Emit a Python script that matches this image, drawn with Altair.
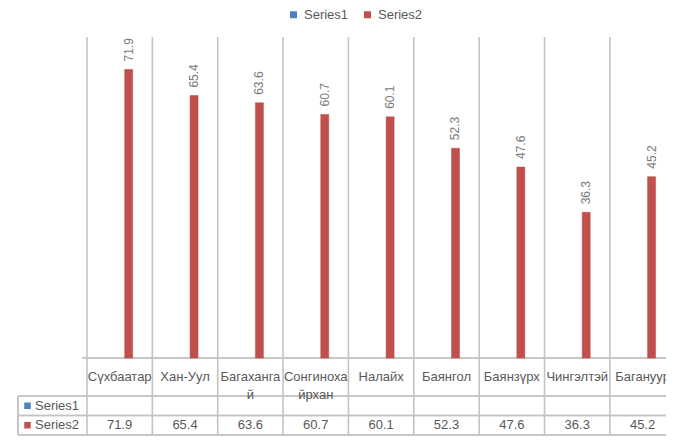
import altair as alt
import pandas as pd

categories = ["Сүхбаатар", "Хан-Уул", "Багахангай", "Сонгинохайрхан", "Налайх",
              "Баянгол", "Баянзүрх", "Чингэлтэй", "Багануур"]
category_labels = ["Сүхбаатар", "Хан-Уул", "Багаханга\nй", "Сонгиноха\nйрхан", "Налайх",
                   "Баянгол", "Баянзүрх", "Чингэлтэй", "Багануур"]
series_names = ["Series1", "Series2"]
series1 = [None] * 9
series2 = [71.9, 65.4, 63.6, 60.7, 60.1, 52.3, 47.6, 36.3, 45.2]
series_colors = ["#4F81BD", "#C0504D"]

rows = []
for i, (c, l, v1, v2) in enumerate(zip(categories, category_labels, series1, series2)):
    rows.append({"cat": c, "idx": i, "label": l, "series": "Series1", "value": v1})
    rows.append({"cat": c, "idx": i, "label": l, "series": "Series2", "value": v2})
df = pd.DataFrame(rows)
df_cats = pd.DataFrame({"cat": categories, "idx": list(range(len(categories))),
                        "label": category_labels})
df_series = pd.DataFrame({"series": series_names})

FONT = "Liberation Sans"
GRID = "#C3C3C3"
TXT = "#595959"

PLOT_W = 584
PLOT_H = 321
COL_W = 66.5
xscale = alt.Scale(domain=[0, PLOT_W / COL_W], nice=False, zero=False)
XI = alt.X("idx:Q", scale=xscale, axis=None)
XM = alt.X("mid:Q", scale=xscale, axis=None)
yscale = alt.Scale(domain=[0, 80], nice=False)
color = alt.Color("series:N", scale=alt.Scale(domain=series_names, range=series_colors),
                  legend=alt.Legend(orient="none", legendX=205, legendY=-29, direction="horizontal",
                                    title=None, symbolType="square", symbolSize=49,
                                    labelFontSize=13, labelFont=FONT, labelColor=TXT,
                                    columnPadding=12, symbolStrokeWidth=0, padding=0,
                                    labelOffset=4))

base = alt.Chart(df).transform_calculate(mid="datum.idx + 0.5")

# table row boundaries (pixels below plot top)
T0, T1, T2, T3 = 321, 359, 378.5, 398
grid = alt.Chart(df_cats).mark_rule(color=GRID, strokeWidth=1.6).encode(
    x=XI, y=alt.value(0), y2=alt.value(T3))

left_border = alt.Chart(df_series).mark_rule(color=GRID, strokeWidth=1.6).encode(
    x=alt.value(-64), y=alt.value(T1), y2=alt.value(T3))
hlines = [
    alt.Chart(df_series).mark_rule(color=GRID, strokeWidth=1.6).encode(
        x=alt.value(x0), x2=alt.value(700), y=alt.value(yy))
    for x0, yy in [(0, T0), (-64, T1), (-64, T2), (-64, T3)]
]

bars = base.transform_filter("datum.value != null").mark_bar(
    size=8, xOffset=9, stroke="#B84A47", strokeWidth=0.5).encode(
    x=XM, y=alt.Y("value:Q", scale=yscale, axis=None), color=color)

bar_labels = base.transform_filter("datum.value != null").mark_text(
    angle=270, align="left", baseline="middle", dx=8, xOffset=9,
    font=FONT, fontSize=12, color="#7A7A7A").encode(
    x=XM, y=alt.Y("value:Q", scale=yscale, axis=None), text=alt.Text("value:Q", format=".1f"))

cat_text = alt.Chart(df_cats).transform_calculate(mid="datum.idx + 0.5").mark_text(
    font=FONT, fontSize=13, color=TXT, baseline="middle", lineBreak="\n", lineHeight=18).encode(
    x=XM, y=alt.value((T0 + T1) / 2), text="label:N")

row_y = {"Series1": (T1 + T2) / 2, "Series2": (T2 + T3) / 2}
table_layers = []
for s in series_names:
    table_layers.append(
        alt.Chart(df_series).transform_filter(f"datum.series == '{s}'").mark_point(
            shape="square", filled=True, size=42, opacity=1).encode(
            x=alt.value(-54.5), y=alt.value(row_y[s]), color=color))
    table_layers.append(
        alt.Chart(df_series).transform_filter(f"datum.series == '{s}'").mark_text(
            align="left", baseline="middle", font=FONT, fontSize=13, color=TXT).encode(
            x=alt.value(-47), y=alt.value(row_y[s]), text="series:N"))
    table_layers.append(
        base.transform_filter(f"datum.series == '{s}' && datum.value != null").mark_text(
            baseline="middle", font=FONT, fontSize=13, color=TXT).encode(
            x=XM, y=alt.value(row_y[s]), text=alt.Text("value:Q", format=".1f")))

chart = alt.layer(grid, left_border, *hlines, bars, bar_labels, cat_text, *table_layers).properties(
    width=PLOT_W, height=PLOT_H, autosize="none",
    padding={"left": 74, "top": 29, "right": 0, "bottom": 78},
).configure_view(stroke=None).configure_legend(
    labelFontSize=13, labelFont=FONT, labelColor=TXT, symbolType="square", symbolSize=49)

chart.save("out.html", embed_options={"renderer": "svg", "actions": False})
